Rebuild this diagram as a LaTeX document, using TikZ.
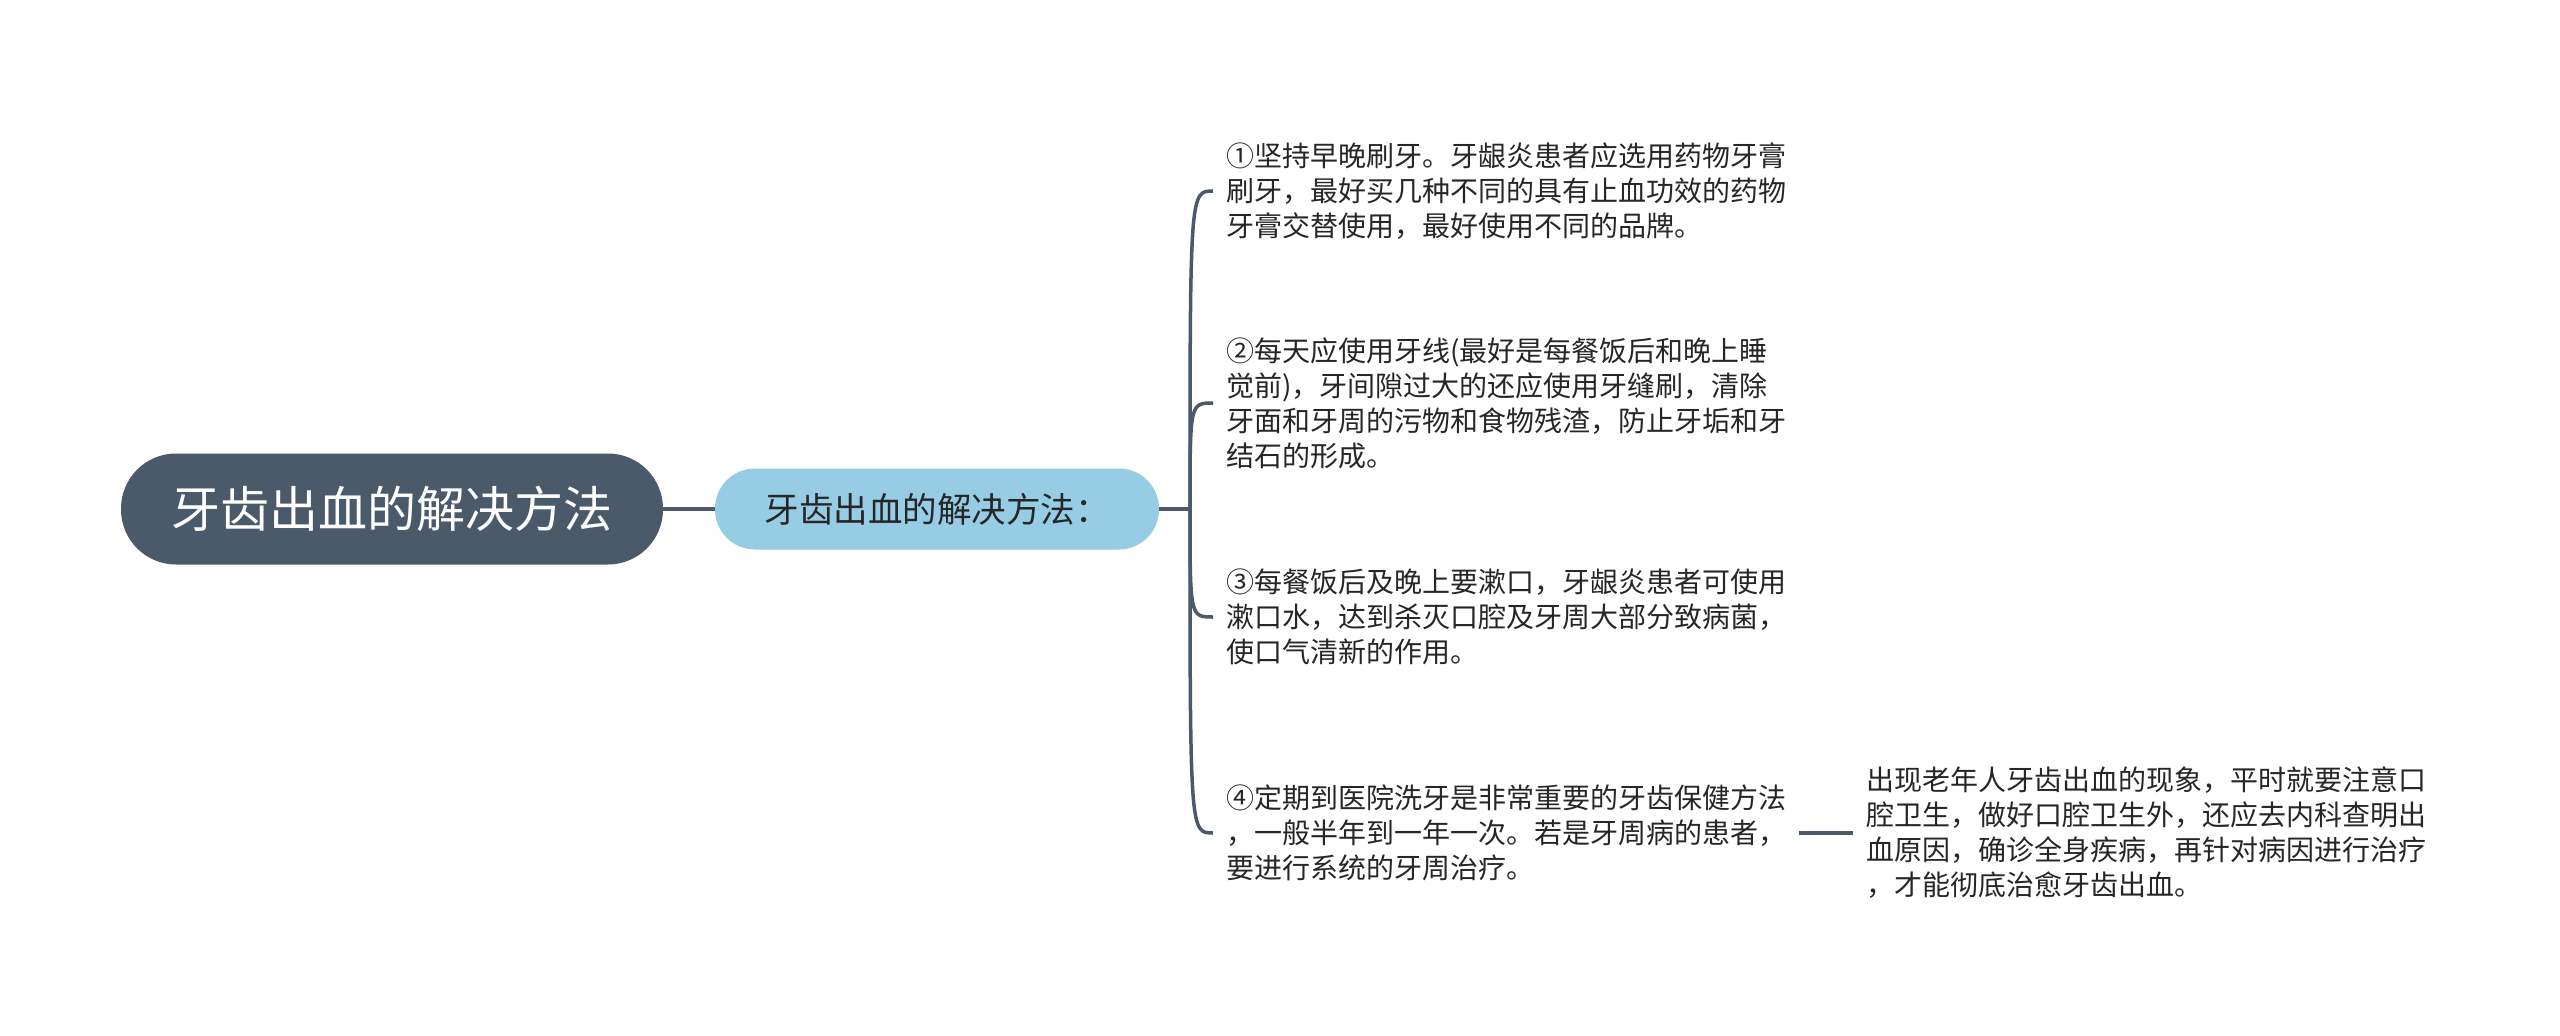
\documentclass[tikz,border=0pt]{standalone}
\usepackage{fontspec}
\usepackage{tikz}
\newfontfamily\cjk{Noto Sans CJK SC}
\definecolor{slate}{HTML}{4A5A6A}
\definecolor{skyblue}{HTML}{96CCE4}
\definecolor{ink}{HTML}{262626}

\begin{document}
\begin{tikzpicture}[x=1pt,y=-1pt,
			line/.style={
				draw=slate,
				line width = 3.5pt},
			root/.style={
				fill=slate,
				rounded corners = 55pt,
				minimum width = 542pt,
				minimum height = 111pt,
				text=white,
				font = \cjk\fontsize{49}{58}\selectfont},
			topic/.style={
				fill=skyblue,
				rounded corners = 40pt,
				minimum width = 444pt,
				minimum height = 81pt,
				text=ink,
				font = \cjk\fontsize{34.5}{42}\selectfont},
			leaf/.style={
				anchor = west,
				align = left,
				inner xsep = 13pt,
				inner ysep = 0pt,
				text=ink,
				font = \cjk\fontsize{28}{35}\selectfont}]
			\useasboundingbox[fill=white] (0, 0) rectangle (2560, 1036);
			\node (root) at (392, 509) [root] {牙齿出血的解决方法};
			\node (topic) at (937, 509) [topic] {牙齿出血的解决方法：};
			\node (tip1) at (1213, 191) [leaf] {①坚持早晚刷牙。牙龈炎患者应选用药物牙膏\\刷牙，最好买几种不同的具有止血功效的药物\\牙膏交替使用，最好使用不同的品牌。};
			\node (tip2) at (1213, 403) [leaf] {②每天应使用牙线(最好是每餐饭后和晚上睡\\觉前)，牙间隙过大的还应使用牙缝刷，清除\\牙面和牙周的污物和食物残渣，防止牙垢和牙\\结石的形成。};
			\node (tip3) at (1213, 617) [leaf] {③每餐饭后及晚上要漱口，牙龈炎患者可使用\\漱口水，达到杀灭口腔及牙周大部分致病菌，\\使口气清新的作用。};
			\node (tip4) at (1213, 833) [leaf] {④定期到医院洗牙是非常重要的牙齿保健方法\\，一般半年到一年一次。若是牙周病的患者，\\要进行系统的牙周治疗。};
			\node (cause) at (1853, 833) [leaf] {出现老年人牙齿出血的现象，平时就要注意口\\腔卫生，做好口腔卫生外，还应去内科查明出\\血原因，确诊全身疾病，再针对病因进行治疗\\，才能彻底治愈牙齿出血。};
			\coordinate (hub) at (1190, 509);
			\draw[line] (root) -- (topic);
			\draw[line] (topic) -- (hub);
			\foreach \n in {tip1, tip2, tip3, tip4}
				\draw[line] (hub) .. controls (hub |- \n.west) .. (\n.west);
			\draw[line] (tip4) -- (cause);
			%		shutu mind map
			\end{tikzpicture}
\end{document}
